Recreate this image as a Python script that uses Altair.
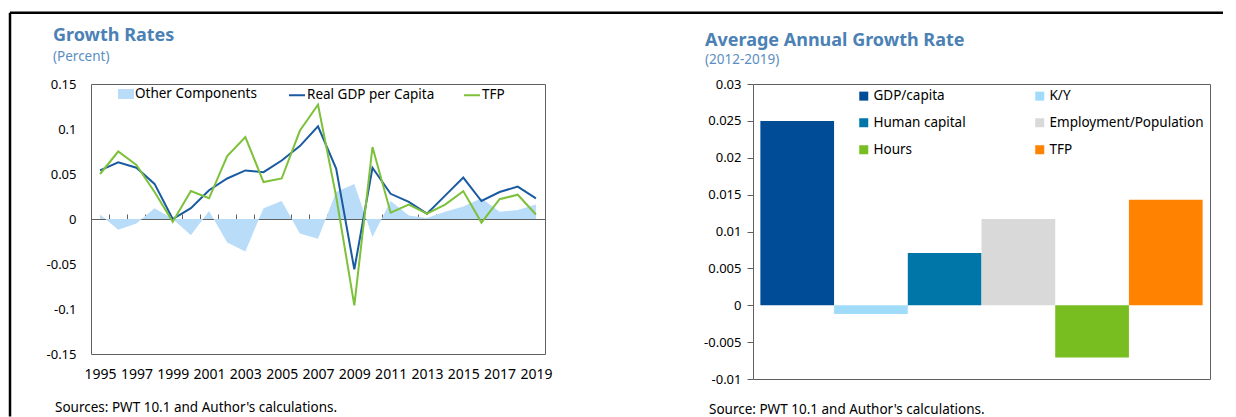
import altair as alt
import pandas as pd

# ---------------- data ----------------
years = list(range(1995, 2020))
real_gdp_per_capita = [0.054, 0.063, 0.057, 0.039, 0.000, 0.012, 0.032, 0.045, 0.054, 0.052,
                       0.065, 0.081, 0.103, 0.056, -0.056, 0.057, 0.028, 0.019, 0.006, 0.026,
                       0.046, 0.020, 0.030, 0.036, 0.023]
tfp = [0.050, 0.075, 0.060, 0.030, -0.003, 0.031, 0.023, 0.070, 0.091, 0.041,
       0.045, 0.098, 0.127, 0.025, -0.096, 0.080, 0.007, 0.016, 0.006, 0.016,
       0.031, -0.004, 0.022, 0.027, 0.005]
other_components = [0.005, -0.012, -0.005, 0.012, 0.000, -0.018, 0.009, -0.026, -0.036, 0.012,
                    0.020, -0.016, -0.022, 0.030, 0.039, -0.020, 0.020, 0.004, 0.001, 0.008,
                    0.014, 0.023, 0.008, 0.010, 0.016]

line_series = ["Real GDP per Capita", "TFP"]
area_series = ["Other Components"]

bar_categories = ["GDP/capita", "K/Y", "Human capital", "Employment/Population", "Hours", "TFP"]
bar_values = [0.0250, -0.0012, 0.0071, 0.0117, -0.0071, 0.0143]

year_label_values = list(range(1995, 2020, 2))
year_tick_values = [y + 0.5 for y in range(1995, 2019)]
left_y_ticks = [-0.15, -0.1, -0.05, 0, 0.05, 0.1, 0.15]
right_y_ticks = [-0.01, -0.005, 0, 0.005, 0.01, 0.015, 0.02, 0.025, 0.03]

# ---------------- styling ----------------
FONT = "Noto Sans"
TITLE_COLOR = "#4b81b4"
SUB_COLOR = "#5b8ec2"
AREA_COLOR = "#b9dcf9"
GDP_LINE = "#1a5aa0"
TFP_LINE = "#7dc13a"
BAR_COLORS = ["#004c97", "#a0dcfa", "#0075a8", "#d9d9d9", "#78be21", "#ff8200"]
AXIS_GRAY = "#606060"

W1, H1 = 454, 270
W2, H2 = 457, 295

df_area = pd.DataFrame({"year": years, "value": other_components, "series": area_series[0]})
df_lines = pd.concat([
    pd.DataFrame({"year": years, "value": real_gdp_per_capita, "series": line_series[0]}),
    pd.DataFrame({"year": years, "value": tfp, "series": line_series[1]}),
])
df_bars = pd.DataFrame({"category": bar_categories, "value": bar_values})
one = pd.DataFrame({"k": [0]})

x_scale = alt.Scale(domain=[1994.5, 2019.5], nice=False, zero=False)
y_left_scale = alt.Scale(domain=[-0.15, 0.15], nice=False, zero=False)
neg_expr_2 = "datum.value < 0 ? '-' + format(-datum.value, '.2~f') : format(datum.value, '.2~f')"
neg_expr_3 = "datum.value < 0 ? '-' + format(-datum.value, '.3~f') : format(datum.value, '.3~f')"

y_left_axis = alt.Axis(values=left_y_ticks, ticks=False, domain=False, grid=False,
                       labelPadding=15, labelFontSize=13, labelColor="black",
                       labelExpr=neg_expr_2, title=None)

area = alt.Chart(df_area).mark_area(opacity=1).encode(
    x=alt.X("year:Q", scale=x_scale,
            axis=alt.Axis(orient="bottom", values=year_label_values, format="d", ticks=False,
                          domain=False, grid=False, labelFlush=False, labelOverlap=False,
                          labelFontSize=14, labelPadding=13, labelColor="black", title=None)),
    y=alt.Y("value:Q", scale=y_left_scale, axis=y_left_axis),
    fill=alt.Fill("series:N",
                  scale=alt.Scale(domain=area_series, range=[AREA_COLOR]),
                  legend=alt.Legend(orient="none", legendX=27, legendY=2, direction="horizontal",
                                    title=None, symbolType="M-1,-0.62H1V0.62H-1Z", symbolSize=256,
                                    symbolStrokeWidth=0, labelFontSize=13.5, labelOffset=1,
                                    labelColor="black", labelFont=FONT)),
)

lines = alt.Chart(df_lines).mark_line(strokeWidth=2).encode(
    x=alt.X("year:Q", scale=x_scale,
            axis=alt.Axis(orient="top", offset=-H1 / 2, values=year_tick_values, labels=False,
                          ticks=True, tickSize=5, tickColor=AXIS_GRAY, domain=True,
                          domainColor=AXIS_GRAY, grid=False, title=None)),
    y=alt.Y("value:Q", scale=y_left_scale, axis=y_left_axis),
    stroke=alt.Stroke("series:N",
                      scale=alt.Scale(domain=line_series, range=[GDP_LINE, TFP_LINE]),
                      legend=alt.Legend(orient="none", legendX=197, legendY=2, direction="horizontal",
                                        title=None, symbolType="stroke", symbolSize=256,
                                        symbolStrokeWidth=2, labelFontSize=13.5, labelOffset=1,
                                        columnPadding=25, labelColor="black", labelFont=FONT)),
)


def label(text, x, y, size, color="black", weight="normal"):
    return alt.Chart(one).mark_text(text=text, align="left", baseline="alphabetic", font=FONT,
                                    fontSize=size, fontWeight=weight, color=color).encode(
        x=alt.value(x), y=alt.value(y))


left_title = label("Growth Rates", -38, -43, 18, TITLE_COLOR, "bold")
left_sub = label("(Percent)", -38, -23, 13.5, SUB_COLOR)
left_source = label("Sources: PWT 10.1 and Author's calculations.", -36, 327.5, 13.5)

frame_top = alt.Chart(one).mark_rule(color="black", strokeWidth=2.5).encode(
    x=alt.value(-81), x2=alt.value(1132), y=alt.value(-71.2))
frame_left = alt.Chart(one).mark_rule(color="black", strokeWidth=2.5).encode(
    x=alt.value(-81), y=alt.value(-71.2), y2=alt.value(332.5))

left = alt.layer(area, lines, left_title, left_sub, left_source, frame_top, frame_left).resolve_scale(
    x="independent").properties(width=W1, height=H1)

bars = alt.Chart(df_bars).mark_bar().encode(
    x=alt.X("category:N", sort=bar_categories,
            scale=alt.Scale(paddingInner=0, paddingOuter=0.1), axis=None),
    y=alt.Y("value:Q", scale=alt.Scale(domain=[-0.01, 0.03], nice=False, zero=False),
            axis=alt.Axis(values=right_y_ticks, ticks=True, tickSize=6, tickColor=AXIS_GRAY,
                          domain=False, grid=False, labelPadding=6, labelFontSize=13,
                          labelColor="black", labelExpr=neg_expr_3, title=None)),
    color=alt.Color("category:N",
                    scale=alt.Scale(domain=bar_categories, range=BAR_COLORS),
                    legend=alt.Legend(orient="none", legendX=104, legendY=5, columns=2,
                                      direction="horizontal", title=None, symbolType="square",
                                      symbolSize=81, symbolStrokeWidth=0, labelFontSize=13.5,
                                      labelOffset=3, rowPadding=12, columnPadding=67,
                                      labelColor="black", labelFont=FONT)),
)

right_title = label("Average Annual Growth Rate", -48, -38.5, 18, TITLE_COLOR, "bold")
right_sub = label("(2012-2019)", -48, -20, 13.5, SUB_COLOR)
right_source = label("Source: PWT 10.1 and Author's calculations.", -44, 330, 13.5)

right = alt.layer(bars, right_title, right_sub, right_source).properties(width=W2, height=H2)

chart = alt.hconcat(left, right, spacing=208, bounds="flush").resolve_scale(
    color="independent", fill="independent", stroke="independent"
).resolve_legend(
    color="independent", fill="independent", stroke="independent"
).properties(
    padding={"left": 0, "top": 3, "right": 0, "bottom": 0}
).configure(font=FONT).configure_view(stroke=AXIS_GRAY, strokeWidth=1)

chart.save("out.html", embed_options={"renderer": "svg", "actions": False})
